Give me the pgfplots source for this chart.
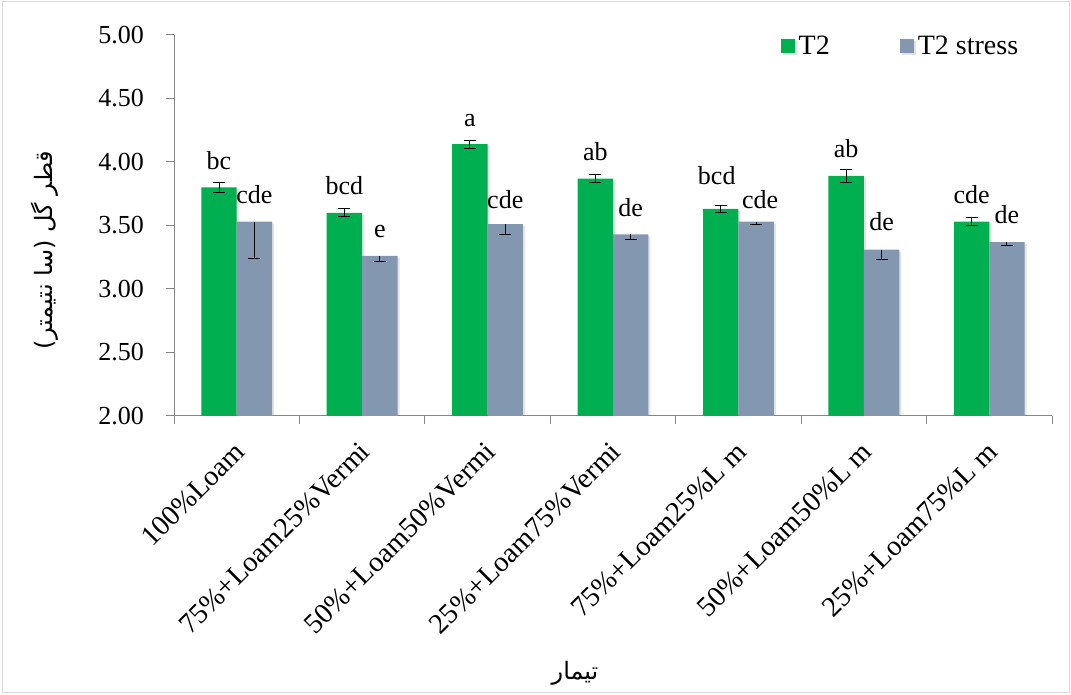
\documentclass[border=0pt]{standalone}
\usepackage{pgfplots}
\pgfplotsset{compat=1.18}
\usepackage{pgfplotstable}
\usetikzlibrary{shadows}
\usepackage{fontspec}
\setmainfont{Liberation Serif}
\newfontfamily\arabicfont[Script=Arabic]{DejaVu Sans}
\TeXXeTstate=1
\definecolor{barg}{RGB}{0,176,80}
\definecolor{barb}{RGB}{132,151,176}
\definecolor{axgray}{RGB}{134,134,134}
\definecolor{frame}{RGB}{217,217,217}

\pgfplotstableread{
x y err lab dx dy
0 3.80 0.04 bc 0 18
1 3.60 0.03 bcd 0 18
2 4.14 0.03 a 0 18
3 3.87 0.03 ab 0 18
4 3.63 0.03 bcd -4 24
5 3.89 0.05 ab 0 18
6 3.53 0.03 cde 0 18
}\greendata

\pgfplotstableread{
x y err lab dx dy
0 3.53 0.29 cde 0 18
1 3.26 0.04 e 0 18
2 3.51 0.08 cde 0 16
3 3.43 0.04 de 0 18
4 3.53 0.02 cde 4 13.5
5 3.31 0.08 de 0 19
6 3.37 0.03 de 0 18.5
}\bluedata

\begin{document}
\begin{tikzpicture}
\useasboundingbox (0,0) rectangle (1071bp,695bp);
\draw[frame, line width=1bp] (2bp,2bp) rectangle (1069bp,693bp);
\begin{axis}[
  at={(174bp,279bp)}, anchor=south west,
  scale only axis, width=878bp, height=381bp,
  ybar=0pt, bar width=35.4bp,
  xmin=-0.5, xmax=6.5, ymin=2, ymax=5,
  ytick={2,2.5,...,5},
  yticklabel style={/pgf/number format/fixed, /pgf/number format/fixed zerofill, /pgf/number format/precision=2, inner sep=0pt, xshift=-22bp},
  /pgf/number format/assume math mode=true,
  axis x line*=bottom, axis y line*=left,
  axis line style={draw=axgray, line width=1bp},
  tick align=outside,
  major tick length=8bp, minor tick length=8bp,
  tick style={draw=axgray, line width=1bp},
  major x tick style={draw=none},
  xtick={0,...,6},
  minor xtick={-0.5,0.5,...,6.5},
  xticklabels={100\%Loam, 75\%+Loam25\%Vermi, 50\%+Loam50\%Vermi, 25\%+Loam75\%Vermi, 75\%+Loam25\%L m, 50\%+Loam50\%L m, 25\%+Loam75\%L m},
  tick label style={font=\fontsize{26bp}{30bp}\selectfont},
  xticklabel style={font=\fontsize{28.5bp}{32bp}\selectfont, xshift=3bp, yshift=-23bp, rotate=45, anchor=east, inner sep=0pt},
  ylabel={\arabicfont\beginR قطر گل (سا نتیمتر)\endR},
  ylabel style={at={(rel axis cs:-0.147,0.436)}, anchor=center, font=\fontsize{24bp}{28bp}\selectfont},
  legend columns=2,
  legend style={draw=none, fill=none, at={(0.6908,0.971)}, anchor=west, inner sep=0pt,
    nodes={inner sep=4bp},
    font=\fontsize{28bp}{32bp}\selectfont,
    /tikz/every even column/.append style={column sep=66bp}},
  legend image code/.code={\fill[#1] (0bp,-7bp) rectangle (14bp,7bp);},
  nodes near coords={\pgfplotspointmeta},
  point meta=explicit symbolic,
  visualization depends on={\thisrow{dx} \as \labdx},
  visualization depends on={\thisrow{dy} \as \labdy},
  every node near coord/.append style={anchor=base, inner sep=0pt, xshift=\labdx bp, yshift=\labdy bp, black, font=\fontsize{26bp}{30bp}\selectfont},
]
\addplot[fill=barg, draw=none,
  drop shadow={shadow xshift=2bp, shadow yshift=-2bp, opacity=0.22},
  error bars/.cd, y dir=both, y explicit,
  error bar style={black, line width=1bp},
  error mark options={black, rotate=90, mark size=6bp, line width=1bp}]
  table[x=x, y=y, y error=err, meta=lab] {\greendata};
\addplot[fill=barb, draw=none,
  drop shadow={shadow xshift=2bp, shadow yshift=-2bp, opacity=0.22},
  error bars/.cd, y dir=minus, y explicit,
  error bar style={black, line width=1bp},
  error mark options={black, rotate=90, mark size=6bp, line width=1bp}]
  table[x=x, y=y, y error=err, meta=lab] {\bluedata};
\legend{T2, T2 stress}
\end{axis}
\node[font=\arabicfont\fontsize{24bp}{28bp}\selectfont] at (575bp,22bp) {\beginR تیمار\endR};
\end{tikzpicture}
\end{document}
